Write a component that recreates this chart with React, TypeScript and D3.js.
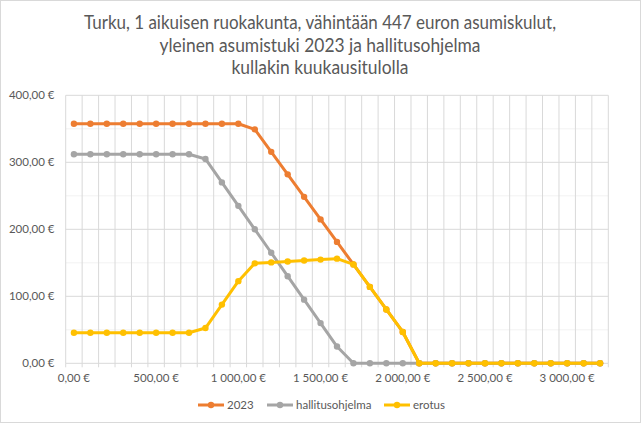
import React from "react";
import * as d3 from "d3";

const incomes: number[] = d3.range(0, 3300, 100).map((d) => d); // 0..3200 € categories
const series2023: number[] = [
  357.6, 357.6, 357.6, 357.6, 357.6, 357.6, 357.6, 357.6, 357.6, 357.6, 357.6,
  349.2, 315.6, 282.0, 248.4, 214.8, 181.2, 147.6, 114.0, 80.4, 46.8,
  0, 0, 0, 0, 0, 0, 0, 0, 0, 0, 0, 0,
];
const seriesHallitus: number[] = [
  312, 312, 312, 312, 312, 312, 312, 312, 305, 270, 235,
  200, 165, 130, 95, 60, 25, 0, 0, 0, 0,
  0, 0, 0, 0, 0, 0, 0, 0, 0, 0, 0, 0,
];
const seriesErotus: number[] = [
  45.6, 45.6, 45.6, 45.6, 45.6, 45.6, 45.6, 45.6, 52.6, 87.6, 122.6,
  149.2, 150.6, 152.0, 153.4, 154.8, 156.2, 147.6, 114.0, 80.4, 46.8,
  0, 0, 0, 0, 0, 0, 0, 0, 0, 0, 0, 0,
];
const seriesNames: string[] = ["2023", "hallitusohjelma", "erotus"];
const seriesColors: string[] = ["#ED7D31", "#A5A5A5", "#FFC000"];
const yTicks: number[] = [0, 100, 200, 300, 400];
const yMinorTicks: number[] = [50, 150, 250, 350];
const xLabelValues: number[] = [0, 500, 1000, 1500, 2000, 2500, 3000];
const titleLines: string[] = [
  "Turku, 1 aikuisen ruokakunta, vähintään 447 euron asumiskulut,",
  "yleinen asumistuki 2023 ja hallitusohjelma",
  "kullakin kuukausitulolla",
];
const titleWidths: number[] = [472, 321, 177];

const W = 644;
const H = 426;
const plot = { left: 65.7, right: 608.3, top: 95.3, bottom: 363.3 };
const FONT = "Lato, 'Open Sans', sans-serif";
const TEXT = "#595959";

const fmt = (v: number) => {
  const s = v.toFixed(2).replace(".", ",");
  const [intPart, dec] = s.split(",");
  const withSep = intPart.replace(/\B(?=(\d{3})+(?!\d))/g, " ");
  return `${withSep},${dec} €`;
};

export default function App() {
  const x = d3
    .scaleBand<number>()
    .domain(incomes)
    .range([plot.left, plot.right])
    .paddingInner(0)
    .paddingOuter(0);
  const cx = (v: number) => (x(v) as number) + x.bandwidth() / 2;
  const y = d3.scaleLinear().domain([0, 400]).range([plot.bottom, plot.top]);

  const allSeries = [series2023, seriesHallitus, seriesErotus];
  const line = d3
    .line<number>()
    .x((_, i) => cx(incomes[i]))
    .y((d) => y(d));

  const boundaries = incomes.map((d) => x(d) as number).concat([plot.right]);

  const legendItems = [
    { x: 198, label: seriesNames[0], color: seriesColors[0] },
    { x: 267, label: seriesNames[1], color: seriesColors[1] },
    { x: 384, label: seriesNames[2], color: seriesColors[2] },
  ];

  return (
    <svg
      width={W}
      height={H}
      style={{ position: "absolute", left: 0, top: 0, background: "#fff" }}
      fontFamily={FONT}
    >
      <rect x={0} y={0} width={W} height={H} fill="#fff" />
      <rect x={0.5} y={0.5} width={640} height={422} fill="#fff" stroke="#d9d9d9" />

      {/* Title */}
      {titleLines.map((t, i) => (
        <text
          key={i}
          x={320}
          y={29 + i * 22.5}
          textAnchor="middle"
          fontSize={18.5}
          fill={TEXT}
          textLength={titleWidths[i]}
          lengthAdjust="spacingAndGlyphs"
        >
          {t}
        </text>
      ))}

      {/* minor horizontal gridlines */}
      {yMinorTicks.map((v) => (
        <line key={"m" + v} x1={plot.left} x2={plot.right} y1={y(v)} y2={y(v)} stroke="#f2f2f2" strokeWidth={1} />
      ))}
      {/* vertical gridlines at category boundaries */}
      {boundaries.map((bx, i) => (
        <line key={"v" + i} x1={bx} x2={bx} y1={plot.top} y2={plot.bottom} stroke="#d9d9d9" strokeWidth={1} />
      ))}
      {/* major horizontal gridlines */}
      {yTicks.map((v) => (
        <line key={"h" + v} x1={plot.left} x2={plot.right} y1={y(v)} y2={y(v)} stroke="#d9d9d9" strokeWidth={1} />
      ))}
      {/* x tick marks */}
      {boundaries.map((bx, i) => (
        <line key={"t" + i} x1={bx} x2={bx} y1={plot.bottom} y2={plot.bottom + 4} stroke="#d9d9d9" strokeWidth={1} />
      ))}

      {/* y labels */}
      {yTicks.map((v) => (
        <text key={"yl" + v} x={54.5} y={y(v) + 4} textAnchor="end" fontSize={11.5} fill={TEXT}>
          {fmt(v)}
        </text>
      ))}
      {/* x labels */}
      {xLabelValues.map((v) => (
        <text key={"xl" + v} x={cx(v)} y={382} textAnchor="middle" fontSize={11.5} fill={TEXT}>
          {fmt(v)}
        </text>
      ))}

      {/* series */}
      {allSeries.map((s, si) => (
        <g key={"s" + si}>
          <path d={line(s) || ""} fill="none" stroke={seriesColors[si]} strokeWidth={3} strokeLinejoin="round" />
          {s.map((v, i) => (
            <circle key={i} cx={cx(incomes[i])} cy={y(v)} r={3.2} fill={seriesColors[si]} />
          ))}
        </g>
      ))}

      {/* legend */}
      {legendItems.map((it) => (
        <g key={it.label}>
          <line x1={it.x} x2={it.x + 26} y1={405} y2={405} stroke={it.color} strokeWidth={3} />
          <circle cx={it.x + 13} cy={405} r={3.2} fill={it.color} />
          <text x={it.x + 29} y={409} fontSize={11.5} fill={TEXT}>
            {it.label}
          </text>
        </g>
      ))}
    </svg>
  );
}
